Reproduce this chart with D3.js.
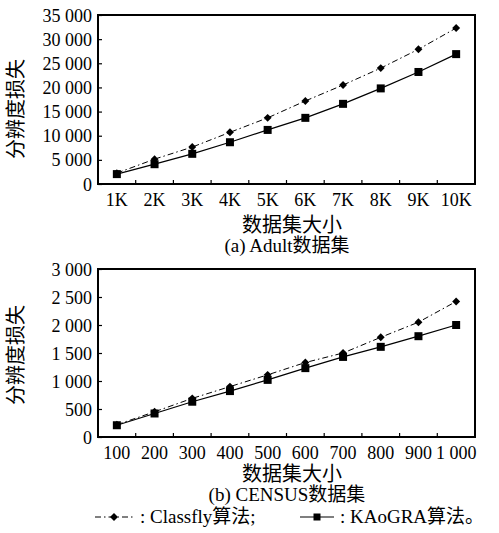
<!DOCTYPE html>
<html>
<head>
<meta charset="utf-8">
<script src="https://cdn.jsdelivr.net/npm/d3@7"></script>
<style>
  body { margin: 0; background: #fff; }
  svg text { font-family: "Liberation Serif", "Times New Roman", "Noto Sans CJK SC", serif; fill: #000; }
  .axis path { display: none; }
  .axis line { stroke: #000; stroke-width: 1.2; }
  .frame { fill: none; stroke: #000; stroke-width: 2; }
</style>
</head>
<body>
<svg id="chart" width="499" height="533"></svg>
<script>
// data
var adultSizes = ["1K", "2K", "3K", "4K", "5K", "6K", "7K", "8K", "9K", "10K"];
var adultClassfly = [2250, 5150, 7650, 10700, 13700, 17200, 20500, 24000, 27900, 32300];
var adultKaogra = [2050, 4100, 6250, 8650, 11200, 13700, 16600, 19800, 23200, 26900];
var adultYTicks = [0, 5000, 10000, 15000, 20000, 25000, 30000, 35000];

var censusSizes = ["100", "200", "300", "400", "500", "600", "700", "800", "900", "1 000"];
var censusClassfly = [220, 450, 690, 900, 1110, 1330, 1500, 1780, 2050, 2420];
var censusKaogra = [210, 420, 630, 820, 1020, 1230, 1430, 1610, 1800, 2000];
var censusYTicks = [0, 500, 1000, 1500, 2000, 2500, 3000];

var seriesNames = ["Classfly算法", "KAoGRA算法"];

var svg = d3.select("#chart");
var fmt = function(v) { return d3.format(",")(v).replace(/,/g, " "); };

function panel(opts) {
    var left = 98, right = 475, top = opts.top, bottom = opts.bottom;
    var g = svg.append("g");

    var x = d3.scaleBand().domain(opts.cats).range([left, right]);
    var y = d3.scaleLinear().domain([0, opts.ymax]).range([bottom, top]);

    // y axis, ticks inward
    g.append("g")
        .attr("class", "axis")
        .attr("transform", "translate(" + left + ",0)")
        .call(d3.axisLeft(y).tickValues(opts.yticks).tickSizeInner(-4).tickSizeOuter(0).tickPadding(6).tickFormat(fmt))
        .selectAll("text")
        .attr("font-size", 18)
        .attr("dy", "0.34em");

    // x labels at band centers
    var xa = g.append("g")
        .attr("class", "axis")
        .attr("transform", "translate(0," + bottom + ")")
        .call(d3.axisBottom(x).tickSize(0).tickPadding(8));
    xa.selectAll("line").remove();
    xa.selectAll("text").attr("font-size", 18).attr("dy", "0.75em");

    // x ticks at band boundaries, inward
    g.selectAll(".xtick")
        .data(opts.cats.slice(1))
        .enter()
        .append("line")
        .attr("x1", function(d) { return x(d); })
        .attr("x2", function(d) { return x(d); })
        .attr("y1", bottom)
        .attr("y2", bottom - 4)
        .attr("stroke", "#000")
        .attr("stroke-width", 1.2);

    g.append("rect")
        .attr("class", "frame")
        .attr("x", left).attr("y", top)
        .attr("width", right - left).attr("height", bottom - top);

    var cx = function(d, i) { return x(opts.cats[i]) + x.bandwidth() / 2; };
    var line = d3.line().x(cx).y(function(d) { return y(d); });

    g.append("path").datum(opts.s1)
        .attr("d", line).attr("fill", "none").attr("stroke", "#000")
        .attr("stroke-width", 1).attr("stroke-dasharray", "6,3,1.5,3");
    g.append("path").datum(opts.s2)
        .attr("d", line).attr("fill", "none").attr("stroke", "#000")
        .attr("stroke-width", 1.2);

    g.selectAll(".dia")
        .data(opts.s1)
        .enter()
        .append("path")
        .attr("d", d3.symbol(d3.symbolDiamond2, 40))
        .attr("transform", function(d, i) { return "translate(" + cx(d, i) + "," + y(d) + ")"; })
        .attr("fill", "#000");
    g.selectAll(".sq")
        .data(opts.s2)
        .enter()
        .append("rect")
        .attr("x", function(d, i) { return cx(d, i) - 4; })
        .attr("y", function(d) { return y(d) - 4; })
        .attr("width", 8).attr("height", 8)
        .attr("fill", "#000");

    // y label
    g.append("text")
        .attr("transform", "translate(23," + opts.ylabY + ") rotate(-90)")
        .attr("text-anchor", "middle")
        .attr("font-size", 20)
        .text("分辨度损失");

    g.append("text")
        .attr("x", 292).attr("y", opts.xlabY)
        .attr("text-anchor", "middle").attr("font-size", 20)
        .text("数据集大小");
    g.append("text")
        .attr("x", 287).attr("y", opts.capY)
        .attr("text-anchor", "middle").attr("font-size", 19)
        .text(opts.caption);
}

panel({ top: 15, bottom: 184, cats: adultSizes, ymax: 35000, yticks: adultYTicks,
        s1: adultClassfly, s2: adultKaogra, ylabY: 109, xlabY: 232, capY: 252, caption: "(a) Adult数据集" });
panel({ top: 269, bottom: 437, cats: censusSizes, ymax: 3000, yticks: censusYTicks,
        s1: censusClassfly, s2: censusKaogra, ylabY: 355, xlabY: 481, capY: 501, caption: "(b) CENSUS数据集" });

// legend
var lg = svg.append("g").attr("transform", "translate(0,517)");
lg.append("line").attr("x1", 95).attr("x2", 133).attr("y1", 0).attr("y2", 0)
    .attr("stroke", "#000").attr("stroke-width", 1).attr("stroke-dasharray", "6,3,1.5,3");
lg.append("path").attr("d", d3.symbol(d3.symbolDiamond2, 40))
    .attr("transform", "translate(114,0)").attr("fill", "#000");
lg.append("text").attr("x", 140).attr("y", 6).attr("font-size", 19)
    .text(": " + seriesNames[0] + ";");
lg.append("line").attr("x1", 300).attr("x2", 334).attr("y1", 0).attr("y2", 0)
    .attr("stroke", "#000").attr("stroke-width", 1.2);
lg.append("rect").attr("x", 313.5).attr("y", -3.5).attr("width", 7).attr("height", 7).attr("fill", "#000");
lg.append("text").attr("x", 340).attr("y", 6).attr("font-size", 19)
    .text(": " + seriesNames[1] + "。");
</script>
</body>
</html>
